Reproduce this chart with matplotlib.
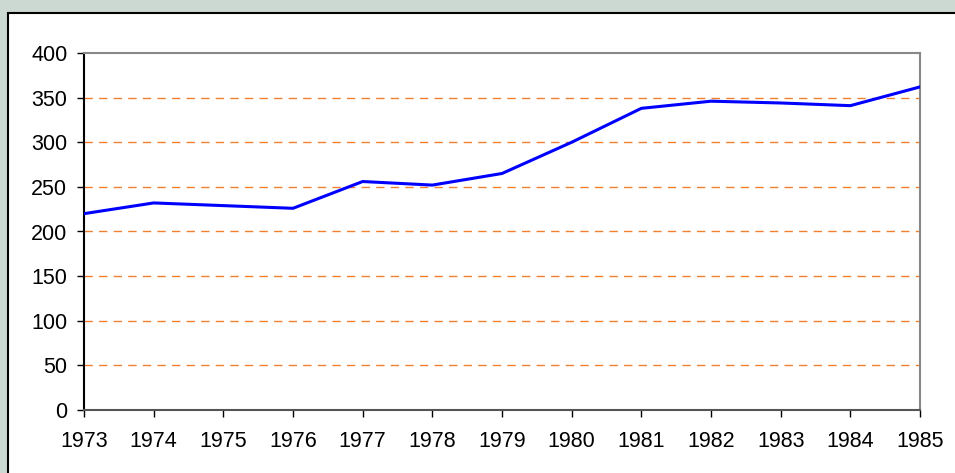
import matplotlib.pyplot as plt
from matplotlib.patches import Rectangle

plt.rcParams['font.family'] = ['Liberation Sans', 'DejaVu Sans']

years = [1973, 1974, 1975, 1976, 1977, 1978, 1979, 1980, 1981, 1982, 1983, 1984, 1985]
values = [220, 232, 229, 226, 256, 252, 265, 300, 338, 346, 344, 341, 362]
y_ticks = [0, 50, 100, 150, 200, 250, 300, 350, 400]

fig = plt.figure(figsize=(9.55, 4.73), dpi=100)
fig.patch.set_facecolor('#cbd9d2')

# white inner panel with black border
panel = Rectangle((8 / 955, -0.1), 1.0, (473 - 13) / 473 + 0.1,
                  transform=fig.transFigure, facecolor='white',
                  edgecolor='black', linewidth=1.5, zorder=-10)
fig.patches.append(panel)

ax = fig.add_axes([84 / 955, 63 / 473, 836 / 955, 357 / 473])
ax.set_facecolor('white')

ax.plot(years, values, color='#0000ff', linewidth=2.2, zorder=3)

ax.set_xlim(1973, 1985)
ax.set_ylim(0, 400)
ax.set_xticks(years)
ax.set_yticks(y_ticks)

for y in y_ticks[1:-1]:
    ax.axhline(y, color='#f08030', linewidth=1.0, linestyle=(0, (6, 4.5)), zorder=1)

ax.spines['left'].set_color('black')
ax.spines['bottom'].set_color('#555555')
ax.spines['top'].set_color('#888888')
ax.spines['right'].set_color('#888888')
for s in ax.spines.values():
    s.set_linewidth(1.5)

ax.tick_params(axis='both', direction='out', length=5, width=1.0,
               labelsize=15.5, colors='black', pad=7)
ax.tick_params(axis='x', pad=10)

plt.savefig('out.png', dpi=100, facecolor=fig.get_facecolor())
